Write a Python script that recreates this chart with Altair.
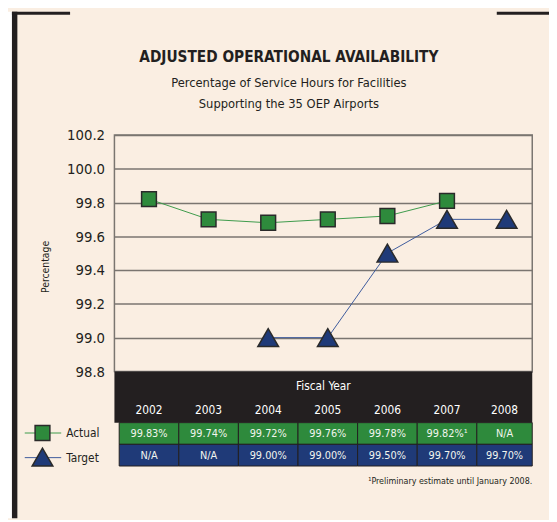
import altair as alt
import pandas as pd

years = [2002, 2003, 2004, 2005, 2006, 2007, 2008]
actual_plot = [99.82, 99.70, 99.68, 99.70, 99.72, 99.81, None]
target_plot = [None, None, 99.00, 99.00, 99.50, 99.70, 99.70]
actual_labels = ["99.83%", "99.74%", "99.72%", "99.76%", "99.78%", "99.82%¹", "N/A"]
target_labels = ["N/A", "N/A", "99.00%", "99.00%", "99.50%", "99.70%", "99.70%"]
y_ticks = [98.8, 99.0, 99.2, 99.4, 99.6, 99.8, 100.0, 100.2]

title = "ADJUSTED OPERATIONAL AVAILABILITY"
subtitle1 = "Percentage of Service Hours for Facilities"
subtitle2 = "Supporting the 35 OEP Airports"
y_title = "Percentage"
x_title = "Fiscal Year"
footnote = "¹Preliminary estimate until January 2008."

FONT = "DejaVu Sans Condensed, sans-serif"
CREAM = "#faeee2"
DARK = "#231f20"
GREEN = "#2e8a3c"
BLUE = "#1f3a78"
W, H = 424, 240
XMIN, XMAX = 2001.42, 2008.43

df = pd.DataFrame({
    "year": years,
    "actual": actual_plot,
    "target": target_plot,
    "alab": actual_labels,
    "tlab": target_labels,
})
df["lo"] = [max(y - 0.5, XMIN) for y in years]
df["hi"] = [min(y + 0.5, XMAX) for y in years]
df["mid"] = (df["lo"] + df["hi"]) / 2

xs = alt.Scale(domain=[XMIN, XMAX], nice=False, zero=False)
ys = alt.Scale(domain=[98.8, 100.2], nice=False, zero=False)
yaxis = alt.Axis(
    values=y_ticks, format=".1f", title=None, domain=False, ticks=False,
    labelPadding=10, labelFont=FONT, labelFontSize=15, labelColor=DARK,
    labelOverlap=False, labelFlush=False, tickCount=8,
    grid=True, gridColor="#7a7570", gridWidth=1.5)

base = alt.Chart(df)
one = alt.Data(values=[{"a": 1}])


def rect(x, x2, y, y2, color):
    return alt.Chart(one).mark_rect(color=color).encode(
        x=alt.value(x), x2=alt.value(x2), y=alt.value(y), y2=alt.value(y2))


def txt(s, x, y, size, bold=False, align="center", baseline="alphabetic", color=DARK, angle=0):
    kw = dict(font=FONT, fontSize=size, align=align, baseline=baseline, color=color)
    if bold:
        kw["fontWeight"] = "bold"
    if angle:
        kw["angle"] = angle
    return alt.Chart(one).mark_text(**kw).encode(
        x=alt.value(x), y=alt.value(y), text=alt.value(s))


# frame decorations
deco = [
    rect(-108, -104, -125, 389, "white"),
    rect(-104, -98.5, -125, 389, DARK),
    rect(-104, -45, -125, -122, DARK),
    rect(388, 441, -125, -122, DARK),
]

actual_line = base.mark_line(color="#3c9a4a", strokeWidth=1).encode(
    x=alt.X("year:Q", scale=xs, axis=None),
    y=alt.Y("actual:Q", scale=ys, axis=yaxis),
)
actual_pts = base.mark_point(shape="square", filled=True, size=225, fill=GREEN,
                             stroke="#2a2a2a", strokeWidth=1.5, opacity=1).encode(
    x=alt.X("year:Q", scale=xs, axis=None), y=alt.Y("actual:Q", scale=ys, axis=yaxis))
target_line = base.mark_line(color="#3d5a9c", strokeWidth=1).encode(
    x=alt.X("year:Q", scale=xs, axis=None), y=alt.Y("target:Q", scale=ys, axis=yaxis))
target_pts = base.mark_point(shape="triangle-up", filled=True, size=441, fill=BLUE,
                             stroke="#2a2a2a", strokeWidth=1.5, opacity=1).encode(
    x=alt.X("year:Q", scale=xs, axis=None), y=alt.Y("target:Q", scale=ys, axis=yaxis))

# table
band = rect(0, W, 240, 292, DARK)
green_cells = base.mark_rect(fill=GREEN, stroke=DARK, strokeWidth=1).encode(
    x=alt.X("lo:Q", scale=xs, axis=None), x2="hi:Q", y=alt.value(292), y2=alt.value(314))
blue_cells = base.mark_rect(fill=BLUE, stroke=DARK, strokeWidth=1).encode(
    x=alt.X("lo:Q", scale=xs, axis=None), x2="hi:Q", y=alt.value(314), y2=alt.value(336))
year_txt = base.mark_text(font=FONT, fontSize=12, color="white", baseline="alphabetic").encode(
    x=alt.X("mid:Q", scale=xs, axis=None), y=alt.value(283.5), text="year:N")
alab_txt = base.mark_text(font=FONT, fontSize=11, color="#f2f5ee", baseline="middle").encode(
    x=alt.X("mid:Q", scale=xs, axis=None), y=alt.value(303.5), text="alab:N")
tlab_txt = base.mark_text(font=FONT, fontSize=11, color="#f2f5ee", baseline="middle").encode(
    x=alt.X("mid:Q", scale=xs, axis=None), y=alt.value(325.5), text="tlab:N")

# legend
leg = [
    alt.Chart(one).mark_rule(color="#3c9a4a", strokeWidth=1).encode(
        x=alt.value(-91), x2=alt.value(-54), y=alt.value(302.5)),
    alt.Chart(one).mark_point(shape="square", filled=True, size=225, fill=GREEN,
                              stroke="#2a2a2a", strokeWidth=1.5, opacity=1).encode(
        x=alt.value(-73), y=alt.value(302.5)),
    alt.Chart(one).mark_rule(color="#3d5a9c", strokeWidth=1).encode(
        x=alt.value(-91), x2=alt.value(-54), y=alt.value(327.5)),
    alt.Chart(one).mark_point(shape="triangle-up", filled=True, size=441, fill=BLUE,
                              stroke="#2a2a2a", strokeWidth=1.5, opacity=1).encode(
        x=alt.value(-73), y=alt.value(327)),
    txt("Actual", -49, 303, 12, align="left", baseline="middle"),
    txt("Target", -49, 328, 12, align="left", baseline="middle"),
]

texts = [
    txt(title, 177, -74, 15.5, bold=True),
    txt(subtitle1, 177, -49, 13),
    txt(subtitle2, 177, -27, 13),
    txt(y_title, -69, 134, 10.5, baseline="middle", angle=270),
    txt(x_title, 212, 259, 12, color="white"),
    txt(footnote, 424, 354, 9, align="right"),
]

chart = alt.layer(
    *deco, actual_line, target_line, actual_pts, target_pts,
    band, green_cells, blue_cells, year_txt, alab_txt, tlab_txt,
    *leg, *texts,
).properties(
    width=W, height=H, background=CREAM,
    autosize=alt.AutoSizeParams(type="none"),
    padding={"left": 108, "top": 125, "right": 17, "bottom": 147},
).configure_view(stroke="#7a7570", strokeWidth=1.5)

chart.save("out.html", embed_options={"renderer": "svg", "actions": False})
